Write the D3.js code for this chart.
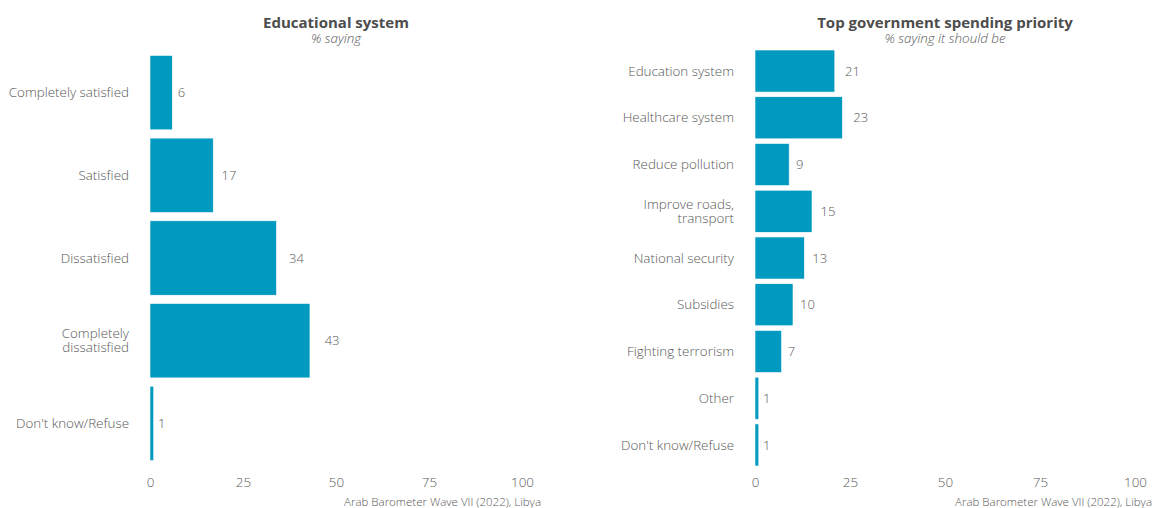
<!DOCTYPE html>
<html><head><meta charset="utf-8">
<script src="https://cdn.jsdelivr.net/npm/d3@7"></script>
<style>
body{margin:0;background:#fff;}
text{font-family:"Open Sans","Noto Sans",sans-serif;}
</style></head>
<body>
<svg id="c" width="1153" height="508"></svg>
<script>
const leftCats = ["Completely satisfied","Satisfied","Dissatisfied","Completely\ndissatisfied","Don't know/Refuse"];
const leftVals = [6,17,34,43,1];
const rightCats = ["Education system","Healthcare system","Reduce pollution","Improve roads,\ntransport","National security","Subsidies","Fighting terrorism","Other","Don't know/Refuse"];
const rightVals = [21,23,9,15,13,10,7,1,1];
const xTicks = [0,25,50,75,100];
const titles = ["Educational system","Top government spending priority"];
const subtitles = ["% saying","% saying it should be"];
const caption = "Arab Barometer Wave VII (2022), Libya";

const svg = d3.select("#c");
const barColor = "#0099c0";
const textCol = "#595959";

function panel(cats, vals, x0, x1, title, sub, capX, labK){
  const g = svg.append("g");
  const x = d3.scaleLinear().domain([0,100]).range([x0,x1]);
  const y = d3.scaleBand().domain(cats).range([43,473]).paddingInner(0.1).paddingOuter(0.15);
  const data = cats.map((c,i)=>({c,v:vals[i]}));
  g.selectAll("rect").data(data).join("rect")
    .attr("x",x(0)).attr("y",d=>y(d.c)).attr("width",d=>x(d.v)-x(0)).attr("height",y.bandwidth())
    .attr("fill",barColor).attr("stroke","#fff").attr("stroke-width",0.6);
  g.selectAll("text.val").data(data).join("text").attr("class","val")
    .attr("x",d=>x(d.v)+4+labK*d.v).attr("y",d=>y(d.c)+y.bandwidth()/2).attr("dy","0.35em")
    .attr("font-size",13).attr("fill",textCol).attr("font-weight",300).text(d=>d.v);
  const yl = g.selectAll("text.yl").data(data).join("text").attr("class","yl")
    .attr("x",x0-21).attr("y",d=>y(d.c)+y.bandwidth()/2)
    .attr("text-anchor","end").attr("font-size",13.4).attr("fill",textCol).attr("font-weight",300);
  yl.each(function(d){
    const lines = d.c.split("\n");
    const t = d3.select(this);
    lines.forEach((l,i)=>{
      t.append("tspan").attr("x",x0-21).attr("dy", i===0 ? ((0.35-(lines.length-1)*0.52)+"em") : "1.04em").text(l);
    });
  });
  const ax = g.append("g").attr("transform","translate(0,477)")
    .call(d3.axisBottom(x).tickValues(xTicks).tickSize(0).tickPadding(0).tickFormat(d3.format("d")));
  ax.select(".domain").remove();
  ax.selectAll("text").attr("font-size",13.4).attr("fill",textCol).attr("font-weight",300)
    .attr("font-family","\"Open Sans\",sans-serif");
  const cx = (x0+x1)/2;
  g.append("text").attr("x",cx).attr("y",27.5).attr("text-anchor","middle")
    .attr("font-size",15).attr("font-weight",700).attr("fill","#4d4d4d").text(title);
  g.append("text").attr("x",cx).attr("y",42.5).attr("text-anchor","middle")
    .attr("font-size",13.4).attr("font-style","italic").attr("font-weight",300).attr("fill",textCol).text(sub);
  g.append("text").attr("x",capX).attr("y",506).attr("text-anchor","end")
    .attr("font-size",11.5).attr("fill",textCol).attr("font-weight",300).text(caption);
}
panel(leftCats,leftVals,150,522,titles[0],subtitles[0],541,0.25);
panel(rightCats,rightVals,755,1135,titles[1],subtitles[1],1152,0.3);
</script>
</body></html>
